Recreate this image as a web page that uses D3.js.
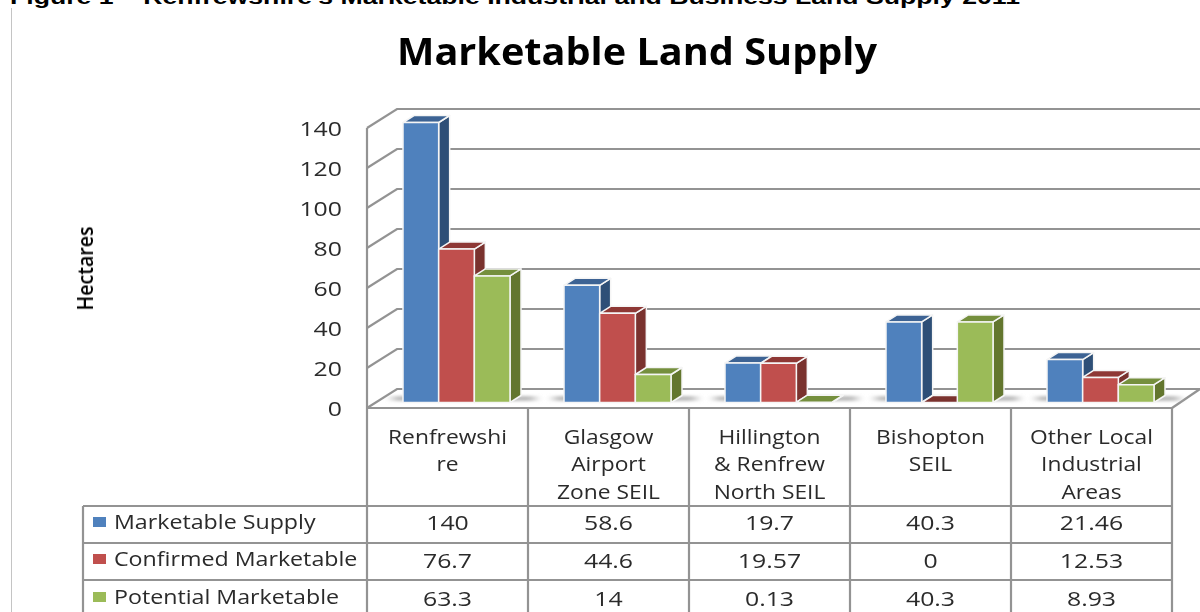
<!DOCTYPE html>
<meta charset="utf-8">
<style>
  html, body { margin: 0; background: #fff; }
  text { font-family: "Open Sans", sans-serif; fill: #2b2b2b; }
</style>

<svg width="1200" height="612"></svg>

<script src="https://d3js.org/d3.v7.min.js"></script>
<script>
  const captionText = "Figure 1 \u2013 Renfrewshire\u2019s Marketable Industrial and Business Land Supply 2011"
  const chartTitle = "Marketable Land Supply"
  const axisTitle = "Hectares"

  const categoryLines = [
    ["Renfrewshi", "re"],
    ["Glasgow", "Airport", "Zone SEIL"],
    ["Hillington", "& Renfrew", "North SEIL"],
    ["Bishopton", "SEIL"],
    ["Other Local", "Industrial", "Areas"]
  ]
  const seriesNames = ["Marketable Supply", "Confirmed Marketable", "Potential Marketable"]
  const marketable = [140, 58.6, 19.7, 40.3, 21.46]
  const confirmed = [76.7, 44.6, 19.57, 0, 12.53]
  const potential = [63.3, 14, 0.13, 40.3, 8.93]
  const seriesValues = [marketable, confirmed, potential]
  const yTicks = [0, 20, 40, 60, 80, 100, 120, 140]

  // front, top, side shades of each series
  const frontColors = ["#4f81bd", "#c0504d", "#9bbb59"]
  const topColors = ["#3c6494", "#8e3836", "#748f3e"]
  const sideColors = ["#2f5077", "#7a302e", "#63762f"]
  const gridColor = "#939393"

  const svg = d3.select("svg")

  // 3d offsets: wall depth and bar depth
  const wallDx = 30, wallDy = -19
  const barDx = 11, barDy = -7
  const floorInset = 5.5

  const x = d3.scaleBand().domain(d3.range(categoryLines.length)).range([367, 1172])
  const y = d3.scaleLinear().domain([0, 140]).range([408, 128])
  const xInner = d3.scaleBand().domain(d3.range(3)).range([36, 143])

  // the original text is stretched sideways, so widen it by a factor
  function stretch(sel, factor) {
    sel.each(function () {
      d3.select(this)
        .attr("textLength", this.getComputedTextLength() * factor)
        .attr("lengthAdjust", "spacingAndGlyphs")
    })
  }
  const wordStretch = 1.14
  const numberStretch = 1.24

  const defs = svg.append("defs")
  defs.append("filter").attr("id", "shadow")
    .attr("x", "-30%").attr("y", "-100%").attr("width", "160%").attr("height", "300%")
    .append("feGaussianBlur").attr("stdDeviation", "5 1.5")
  defs.append("filter").attr("id", "soft")
    .attr("x", "-2%").attr("y", "-2%").attr("width", "104%").attr("height", "104%")
    .append("feGaussianBlur").attr("stdDeviation", 0.5)

  // caption, cut by the top of the picture
  svg.append("text")
    .attr("x", 10).attr("y", 4)
    .attr("font-size", 19.5)
    .style("font-family", "'Liberation Sans', sans-serif")
    .style("font-weight", "bold")
    .style("fill", "#000")
    .attr("textLength", 1010)
    .attr("lengthAdjust", "spacingAndGlyphs")
    .text(captionText)

  svg.append("line")
    .attr("x1", 11.5).attr("x2", 11.5).attr("y1", 8).attr("y2", 612)
    .attr("stroke", "#c4c4c4").attr("stroke-width", 1)

  const chart = svg.append("g").attr("filter", "url(#soft)")

  chart.append("text")
    .attr("x", 637).attr("y", 65)
    .attr("text-anchor", "middle")
    .attr("font-size", 37)
    .style("font-weight", "bold")
    .style("fill", "#000")
    .attr("textLength", 480)
    .attr("lengthAdjust", "spacingAndGlyphs")
    .text(chartTitle)

  chart.append("text")
    .attr("transform", "translate(93,268.5) rotate(-90)")
    .attr("text-anchor", "middle")
    .attr("font-size", 22)
    .style("font-weight", 600)
    .style("fill", "#000")
    .attr("textLength", 84)
    .attr("lengthAdjust", "spacingAndGlyphs")
    .text(axisTitle)

  // walls and floor
  const walls = chart.append("g")
    .attr("stroke", gridColor).attr("stroke-width", 2.2).attr("fill", "none")

  walls.selectAll(".grid")
    .data(yTicks)
    .enter().append("path")
    .attr("class", "grid")
    .attr("d", t => d3.line()([
      [367, y(t)],
      [367 + wallDx, y(t) + wallDy],
      [1200, y(t) + wallDy]
    ]))

  walls.append("line")
    .attr("x1", 367).attr("x2", 367).attr("y1", y(140)).attr("y2", y(0))
  walls.append("path")
    .attr("d", d3.line()([[1172, y(0)], [1172 + 28, y(0) + wallDy]]))

  // tick labels
  chart.append("g").selectAll("text")
    .data(yTicks)
    .enter().append("text")
    .attr("x", 342)
    .attr("y", t => y(t) + 8)
    .attr("text-anchor", "end")
    .attr("font-size", 20)
    .text(t => t)
    .call(stretch, numberStretch)

  // bars
  const groups = chart.append("g").selectAll("g")
    .data(categoryLines)
    .enter().append("g")
    .attr("transform", (d, i) => `translate(${x(i)},0)`)

  groups.append("rect")
    .attr("x", 26).attr("y", y(0) - 12)
    .attr("width", 142).attr("height", 5)
    .attr("fill", "#bcbcbc")
    .attr("filter", "url(#shadow)")

  groups.each(function (d, c) {
    const g = d3.select(this)
    seriesValues.forEach((values, s) => {
      const v = values[c]
      const x0 = xInner(s)
      const x1 = x0 + xInner.bandwidth()
      const yTop = y(v) - floorInset
      const yBase = y(0) - floorInset
      const bar = g.append("g")
        .attr("stroke", "#f5f5f5").attr("stroke-width", 1.5).attr("stroke-linejoin", "round")

      bar.append("path")
        .attr("fill", sideColors[s])
        .attr("d", d3.line()([[x1, yTop], [x1 + barDx, yTop + barDy], [x1 + barDx, yBase + barDy], [x1, yBase]]) + "Z")
      bar.append("path")
        .attr("fill", v === 0 ? sideColors[s] : topColors[s])
        .attr("d", d3.line()([[x0, yTop], [x0 + barDx, yTop + barDy], [x1 + barDx, yTop + barDy], [x1, yTop]]) + "Z")
      if (v > 1) {
        bar.append("rect")
          .attr("fill", frontColors[s])
          .attr("x", x0).attr("y", yTop)
          .attr("width", xInner.bandwidth()).attr("height", yBase - yTop)
      }
    })
  })

  // data table
  const rowLines = [408, 506, 543, 580]
  const rowCenters = [524, 561, 599]
  const valueBaselines = [530, 568, 606]
  const headerBaselines = [444, 471, 499]
  const table = chart.append("g")
    .attr("stroke", gridColor).attr("stroke-width", 2.2).attr("fill", "none")

  table.selectAll(".row")
    .data(rowLines)
    .enter().append("line")
    .attr("class", "row")
    .attr("x1", (d, i) => i === 0 ? 367 : 83)
    .attr("x2", 1172)
    .attr("y1", d => d).attr("y2", d => d)

  table.selectAll(".col")
    .data(d3.range(categoryLines.length + 1))
    .enter().append("line")
    .attr("class", "col")
    .attr("x1", i => i === categoryLines.length ? 1172 : x(i))
    .attr("x2", i => i === categoryLines.length ? 1172 : x(i))
    .attr("y1", 408).attr("y2", 612)

  table.append("line")
    .attr("x1", 83).attr("x2", 83).attr("y1", 506).attr("y2", 612)

  // category headers, one text per line
  categoryLines.forEach((lines, i) => {
    chart.append("g").selectAll("text")
      .data(lines)
      .enter().append("text")
      .attr("x", x(i) + x.bandwidth() / 2)
      .attr("y", (l, j) => headerBaselines[j])
      .attr("text-anchor", "middle")
      .attr("font-size", 20)
      .text(l => l)
      .call(stretch, wordStretch)
  })

  // legend keys and series names
  const legend = chart.append("g").selectAll("g")
    .data(seriesNames)
    .enter().append("g")
    .attr("transform", (d, i) => `translate(0,${rowCenters[i]})`)

  legend.append("rect")
    .attr("x", 93).attr("y", -7).attr("width", 13).attr("height", 10)
    .attr("fill", (d, i) => frontColors[i])

  legend.append("text")
    .attr("x", 114).attr("y", 5)
    .attr("font-size", 20)
    .text(d => d)
    .call(stretch, wordStretch + 0.02)

  // table values
  seriesValues.forEach((values, s) => {
    chart.append("g").selectAll("text")
      .data(values)
      .enter().append("text")
      .attr("x", (v, i) => x(i) + x.bandwidth() / 2)
      .attr("y", valueBaselines[s])
      .attr("text-anchor", "middle")
      .attr("font-size", 20)
      .text(v => v)
      .call(stretch, numberStretch)
  })
</script>
